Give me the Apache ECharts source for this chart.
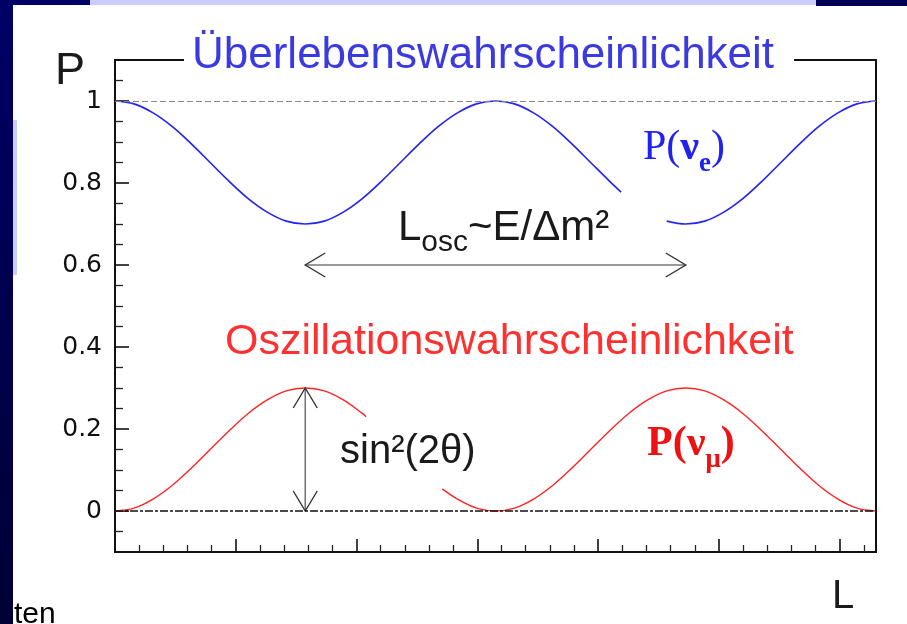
<!DOCTYPE html>
<html>
<head>
<meta charset="utf-8">
<script src="https://cdn.jsdelivr.net/npm/echarts@6/dist/echarts.min.js"></script>
<style>
html, body { margin: 0; padding: 0; background: #ffffff; }
#chart { width: 907px; height: 624px; }
</style>
</head>
<body>
<div id="chart"></div>
<script>
// Distance L in units of the oscillation length L_osc
const survL = [0, 0.05, 0.1, 0.15, 0.2, 0.25, 0.3, 0.35, 0.4, 0.45, 0.5, 0.55, 0.6, 0.65, 0.7, 0.75, 0.8, 0.85, 0.9, 0.95, 1,
               1.05, 1.1, 1.15, 1.2, 1.25, 1.3, 1.33, 1.39, 1.45, 1.5, 1.55, 1.6, 1.65, 1.7, 1.75, 1.8, 1.85, 1.9, 1.95, 2];
// Survival probability P(nu_e)
const survP = [1, 0.993, 0.971, 0.938, 0.896, 0.850, 0.804, 0.762, 0.729, 0.707, 0.700, 0.707, 0.729, 0.762, 0.804, 0.850, 0.896, 0.938, 0.971, 0.993, 1,
               0.993, 0.971, 0.938, 0.896, 0.850, 0.804, 0.778, null, 0.707, 0.700, 0.707, 0.729, 0.762, 0.804, 0.850, 0.896, 0.938, 0.971, 0.993, 1];

const oscL = [0, 0.05, 0.1, 0.15, 0.2, 0.25, 0.3, 0.35, 0.4, 0.45, 0.5, 0.55, 0.6, 0.65, 0.66, 0.76, 0.86,
              0.9, 0.95, 1, 1.05, 1.1, 1.15, 1.2, 1.25, 1.3, 1.35, 1.4, 1.45, 1.5, 1.55, 1.6, 1.65, 1.7, 1.75, 1.8, 1.85, 1.9, 1.95, 2];
// Oscillation probability P(nu_mu)
const oscP = [0, 0.007, 0.029, 0.062, 0.104, 0.150, 0.196, 0.238, 0.271, 0.293, 0.300, 0.293, 0.271, 0.238, 0.230, null, 0.054,
              0.029, 0.007, 0, 0.007, 0.029, 0.062, 0.104, 0.150, 0.196, 0.238, 0.271, 0.293, 0.300, 0.293, 0.271, 0.238, 0.196, 0.150, 0.104, 0.062, 0.029, 0.007, 0];

// Reference levels
const survMax = 1;
const oscMin = 0;

// Double-headed arrows: [L start, P start, L end, P end]
const arrows = [
  [0.5, 0.6, 1.5, 0.6],   // L_osc
  [0.5, 0.3, 0.5, 0]      // amplitude sin^2(2 theta)
];

// Tick positions
const yMajorTicks = [0, 0.2, 0.4, 0.6, 0.8, 1];
const yMinorTicks = [-0.05, 0.05, 0.1, 0.15, 0.25, 0.3, 0.35, 0.45, 0.5, 0.55, 0.65, 0.7, 0.75, 0.85, 0.9, 0.95, 1.05];
const xMajorTicks = [1, 2, 3, 4, 5, 6];
const xMinorTicks = [0.2, 0.4, 0.6, 0.8, 1.2, 1.4, 1.6, 1.8, 2.2, 2.4, 2.6, 2.8, 3.2, 3.4, 3.6, 3.8,
                     4.2, 4.4, 4.6, 4.8, 5.2, 5.4, 5.6, 5.8, 6.2];

const pairs = (xs, ys) => xs.map((x, i) => [x, ys[i] == null ? '-' : ys[i]]);

const SANS = '"Liberation Sans", Arial, Helvetica, sans-serif';
const SERIF = '"Liberation Serif", "Times New Roman", serif';
const INK = '#1a1a1a';

const chart = echarts.init(document.getElementById('chart'), null, { renderer: 'canvas' });

function arrowItem(params, api) {
  const a = api.coord([api.value(0), api.value(1)]);
  const b = api.coord([api.value(2), api.value(3)]);
  const dx = b[0] - a[0], dy = b[1] - a[1];
  const len = Math.sqrt(dx * dx + dy * dy);
  const ux = dx / len, uy = dy / len;
  const px = -uy, py = ux;
  const hl = 20, hw = 12;
  const head = (t, d) => [
    [t[0] + d * ux * hl + px * hw, t[1] + d * uy * hl + py * hw],
    [t[0], t[1]],
    [t[0] + d * ux * hl - px * hw, t[1] + d * uy * hl - py * hw]
  ];
  return {
    type: 'group',
    children: [
      { type: 'line', shape: { x1: a[0], y1: a[1], x2: b[0], y2: b[1] }, style: { stroke: '#777', lineWidth: 1.6 } },
      { type: 'polyline', shape: { points: head(a, 1) }, style: { stroke: '#333', lineWidth: 1.4, fill: null } },
      { type: 'polyline', shape: { points: head(b, -1) }, style: { stroke: '#333', lineWidth: 1.4, fill: null } }
    ]
  };
}

const tickAxisBase = {
  type: 'value',
  axisLabel: { show: false },
  splitLine: { show: false }
};

chart.setOption({
  animation: false,
  backgroundColor: '#ffffff',
  grid: {
    left: 115, right: 31, top: 60, bottom: 72,
    show: true, borderColor: '#111', borderWidth: 2, backgroundColor: 'transparent',
    containLabel: false, outerBoundsMode: 'none'
  },
  xAxis: [
    { type: 'value', min: 0, max: 2, show: false, axisLine: { onZero: false } },
    Object.assign({}, tickAxisBase, {
      min: 0, max: 6.3, position: 'bottom',
      axisLine: { show: true, onZero: false, lineStyle: { color: '#111', width: 2 } },
      axisTick: { show: true, inside: true, length: 13, customValues: xMajorTicks, lineStyle: { color: '#111', width: 1.6 } }
    }),
    Object.assign({}, tickAxisBase, {
      min: 0, max: 6.3, position: 'bottom',
      axisLine: { show: false, onZero: false },
      axisTick: { show: true, inside: true, length: 7, customValues: xMinorTicks, lineStyle: { color: '#222', width: 1.3 } }
    })
  ],
  yAxis: [
    {
      type: 'value', min: -0.1, max: 1.1, position: 'left',
      axisLine: { show: true, onZero: false, lineStyle: { color: '#111', width: 2 } },
      axisTick: { show: true, inside: true, length: 14, customValues: yMajorTicks, lineStyle: { color: '#111', width: 1.6 } },
      axisLabel: { show: true, customValues: yMajorTicks, margin: 13, fontFamily: '"DejaVu Sans", sans-serif', fontSize: 25, color: '#111' },
      splitLine: { show: false }
    },
    Object.assign({}, tickAxisBase, {
      min: -0.1, max: 1.1, position: 'left',
      axisLine: { show: false, onZero: false },
      axisTick: { show: true, inside: true, length: 8, customValues: yMinorTicks, lineStyle: { color: '#222', width: 1.3 } }
    })
  ],
  series: [
    {
      name: 'P(νe)', type: 'line', xAxisIndex: 0, yAxisIndex: 0,
      data: pairs(survL, survP), showSymbol: false, smooth: 0.35, connectNulls: false,
      lineStyle: { color: '#2626f2', width: 1.7 },
      markLine: {
        silent: true, symbol: 'none', label: { show: false },
        lineStyle: { color: '#8a8a8a', type: [6, 3], width: 1.1 },
        data: [{ yAxis: survMax }]
      },
      z: 3
    },
    {
      name: 'P(νμ)', type: 'line', xAxisIndex: 0, yAxisIndex: 0,
      data: pairs(oscL, oscP), showSymbol: false, smooth: 0.35, connectNulls: false,
      lineStyle: { color: '#ff2424', width: 1.4 },
      markLine: {
        silent: true, symbol: 'none', label: { show: false },
        lineStyle: { color: '#111', type: [8, 2, 3, 2], width: 1.6 },
        data: [{ yAxis: oscMin }]
      },
      z: 3
    },
    {
      name: 'arrows', type: 'custom', xAxisIndex: 0, yAxisIndex: 0,
      data: arrows, encode: { x: [0, 2], y: [1, 3] },
      renderItem: arrowItem, silent: true, z: 4
    }
  ],
  graphic: [
    // slide frame
    { type: 'rect', z: 0, shape: { x: 0, y: 0, width: 13, height: 624 },
      style: { fill: new echarts.graphic.LinearGradient(0, 0, 0, 1, [{ offset: 0, color: '#000066' }, { offset: 1, color: '#000036' }]) } },
    { type: 'rect', z: 0, shape: { x: 0, y: 0, width: 90, height: 5 }, style: { fill: '#000066' } },
    { type: 'rect', z: 0, shape: { x: 90, y: 0, width: 726, height: 5 }, style: { fill: '#ccccff' } },
    { type: 'rect', z: 0, shape: { x: 816, y: 0, width: 91, height: 6 }, style: { fill: '#000055' } },
    { type: 'rect', z: 0, shape: { x: 13, y: 120, width: 4, height: 155 }, style: { fill: '#ccccff' } },
    { type: 'text', z: 10, x: 14, y: 615,
      style: { text: 'ten', font: '30px ' + SANS, fill: '#000', textAlign: 'left', textVerticalAlign: 'middle', verticalAlign: 'middle' } },

    // axis names
    { type: 'text', z: 10, x: 55, y: 72,
      style: { text: 'P', font: '45px ' + SANS, fill: INK, textAlign: 'left', textVerticalAlign: 'middle', verticalAlign: 'middle' } },
    { type: 'text', z: 10, x: 832, y: 597,
      style: { text: 'L', font: '40px ' + SANS, fill: INK, textAlign: 'left', textVerticalAlign: 'middle', verticalAlign: 'middle' } },

    // headings
    { type: 'text', z: 100, x: 184, y: 56,
      style: { text: 'Überlebenswahrscheinlichkeit', font: '44px ' + SANS, fill: '#3a3ae0',
               textAlign: 'left', textVerticalAlign: 'middle', verticalAlign: 'middle',
               backgroundColor: '#ffffff', padding: [2, 20, 2, 8] } },
    { type: 'text', z: 10, x: 225, y: 342,
      style: { text: 'Oszillationswahrscheinlichkeit', font: '43px ' + SANS, fill: '#ff3030',
               textAlign: 'left', textVerticalAlign: 'middle', verticalAlign: 'middle' } },

    // curve labels
    { type: 'text', z: 10, x: 643, y: 148,
      style: {
        text: '{m|P(}{b|ν}{s|e}{m|)}', textAlign: 'left', textVerticalAlign: 'middle', verticalAlign: 'middle',
        rich: {
          m: { fontFamily: SERIF, fontSize: 42, fill: '#2222ee', color: '#2222ee', lineHeight: 60, verticalAlign: 'middle' },
          b: { fontFamily: SERIF, fontSize: 42, fontWeight: 'bold', fill: '#2222ee', color: '#2222ee', lineHeight: 60, verticalAlign: 'middle' },
          s: { fontFamily: SERIF, fontSize: 27, fontWeight: 'bold', fill: '#2222ee', color: '#2222ee', lineHeight: 20, verticalAlign: 'bottom' }
        }
      } },
    { type: 'text', z: 10, x: 647, y: 444,
      style: {
        text: '{m|P(ν}{s|μ}{m|)}', textAlign: 'left', textVerticalAlign: 'middle', verticalAlign: 'middle',
        rich: {
          m: { fontFamily: SERIF, fontSize: 42, fontWeight: 'bold', fill: '#ee1111', color: '#ee1111', lineHeight: 60, verticalAlign: 'middle' },
          s: { fontFamily: SERIF, fontSize: 27, fontWeight: 'bold', fill: '#ee1111', color: '#ee1111', lineHeight: 16, verticalAlign: 'bottom' }
        }
      } },

    // annotations
    { type: 'text', z: 10, x: 398, y: 228,
      style: {
        text: '{m|L}{s|osc}{m|~E/Δm²}', textAlign: 'left', textVerticalAlign: 'middle', verticalAlign: 'middle',
        rich: {
          m: { fontFamily: SANS, fontSize: 42, fill: INK, color: INK, lineHeight: 60, verticalAlign: 'middle' },
          s: { fontFamily: SANS, fontSize: 30, fill: INK, color: INK, lineHeight: 15, verticalAlign: 'bottom' }
        }
      } },
    { type: 'text', z: 10, x: 340, y: 452,
      style: { text: 'sin²(2θ)', font: '40px ' + SANS, fill: INK, textAlign: 'left', textVerticalAlign: 'middle', verticalAlign: 'middle' } }
  ]
});
</script>
</body>
</html>
